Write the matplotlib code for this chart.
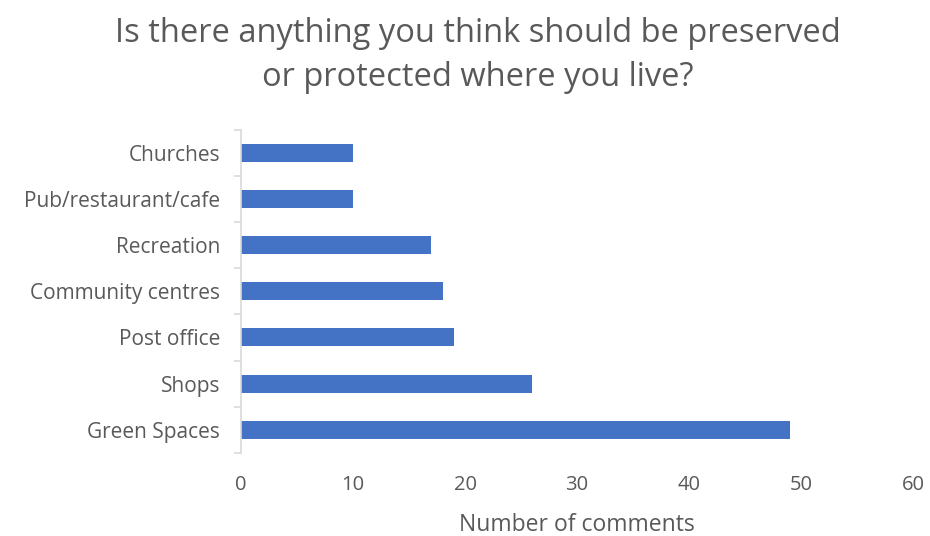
import matplotlib
matplotlib.use("Agg")
import matplotlib.pyplot as plt
import numpy as np

categories = ["Green Spaces", "Shops", "Post office", "Community centres",
              "Recreation", "Pub/restaurant/cafe", "Churches"]
values = [49, 26, 19, 18, 17, 10, 10]
xticks = [0, 10, 20, 30, 40, 50, 60]

plt.rcParams['font.family'] = ['Open Sans', 'DejaVu Sans']
gray = '#595959'
axcol = '#d9d9d9'

fig = plt.figure(figsize=(9.3, 5.36), dpi=100)
ax = fig.add_axes([0.259, 0.155, 0.723, 0.603])
y = np.arange(len(categories))
ax.barh(y, values, height=0.39, color='#4472C4')
ax.set_xlim(0, 60)
ax.set_ylim(-0.5, len(categories) - 0.5)
ax.set_xticks(xticks)
ax.set_xticklabels([str(t) for t in xticks])
ax.set_yticks(y)
ax.set_yticklabels(categories)
ax.set_yticks(np.arange(-0.5, len(categories)), minor=True)
ax.tick_params(axis='y', which='major', length=0, pad=15, labelsize=15, labelcolor=gray)
ax.tick_params(axis='y', which='minor', length=5, color=axcol, width=1.2)
ax.tick_params(axis='x', length=0, pad=16, labelsize=14.5, labelcolor=gray)
for s in ['top', 'right', 'bottom']:
    ax.spines[s].set_visible(False)
ax.spines['left'].set_color(axcol)
ax.spines['left'].set_linewidth(1.2)
ax.set_xlabel("Number of comments", fontsize=16.5, color=gray, labelpad=13)
fig.suptitle("Is there anything you think should be preserved\nor protected where you live?",
             fontsize=23.5, color=gray, x=0.514, y=0.968, linespacing=1.45)
fig.savefig("out.png", dpi=100)
